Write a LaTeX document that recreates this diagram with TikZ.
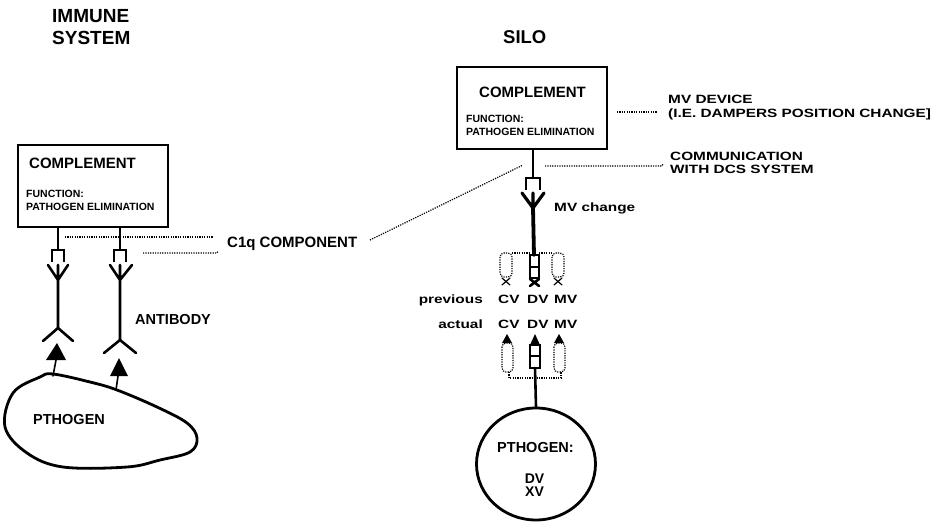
\documentclass[tikz,border=0pt]{standalone}
\usepackage{fontspec}
\setmainfont{Liberation Sans}
\newfontfamily\widefont[FakeStretch=1.28]{Liberation Sans}
\usetikzlibrary{positioning,shapes.geometric}
\newcommand{\fs}[1]{\fontsize{#1}{#1}\selectfont}

\begin{document}
\begin{tikzpicture}[
    x=1pt, y=-1pt, % one unit = one pixel of the reference, y downwards
    line cap=round,
    box/.style={draw, line width=2.2pt, minimum width=150pt, minimum height=82pt, inner sep=0pt},
    txt/.style={anchor=base west, inner sep=0pt, font=\bfseries},
    wide/.style={anchor=base west, inner sep=0pt, font=\widefont\bfseries\fs{12}},
    pointer/.style={line width=1.2pt, line cap=butt, dash pattern=on 1.2pt off 1.2pt},
    ab/.style={line width=2.6pt},
    hook/.style={line width=1.8pt, line cap=butt},
    pill/.style={line width=1.2pt, line cap=butt, dash pattern=on 1.2pt off 1.2pt, rounded corners=4pt}
]
\useasboundingbox (0,0) rectangle (937,522);

% --- 1. TITLES ---
\node[txt, font=\bfseries\fs{19}] (immune) at (52,23) {IMMUNE};
\node[txt, font=\bfseries\fs{19}] (system) at (52,44) {SYSTEM};
\node[txt, font=\bfseries\fs{18.5}] (silo) at (503,43) {SILO};

% --- 2. COMPLEMENT BOXES ---
\node[box] (lbox) at (93,186) {};
\node[txt, font=\bfseries\fs{15}] (lcompl) at (29,168) {COMPLEMENT};
\node[txt, font=\bfseries\fs{10.5}] (lfunc) at (26,197) {FUNCTION:};
\node[txt, font=\bfseries\fs{10.5}] (lelim) at (26,210) {PATHOGEN ELIMINATION};

\node[box] (rbox) at (532,108) {};
\node[txt, font=\bfseries\fs{15}] (rcompl) at (479,97) {COMPLEMENT};
\node[txt, font=\bfseries\fs{10.5}] (rfunc) at (466,122) {FUNCTION:};
\node[txt, font=\bfseries\fs{10.5}] (relim) at (466,135) {PATHOGEN ELIMINATION};

% --- 3. LEFT ANTIBODIES ---
\coordinate (hookA) at (58,250);
\coordinate (hookB) at (120,250);
\draw[hook] (lbox.south -| hookA) -- (hookA);
\draw[hook] (lbox.south -| hookB) -- (hookB);
\draw[hook] (52,262) -- (52,250) -- (64,250) -- (64,262);
\draw[hook] (114,262) -- (114,250) -- (126,250) -- (126,262);
% forks
\draw[ab] (48,265) -- (58,280) -- (68,265) (58,265) -- (58,328);
\draw[ab] (110,265) -- (120,280) -- (132,265) (120,265) -- (120,340);
\draw[ab] (43,341) -- (58,328) -- (73,341);
\draw[ab] (104,353) -- (120,340) -- (136,353);
% arrows from the pathogen
\fill (57,343) -- (66,360) -- (46,360) -- cycle;
\fill (119,358) -- (128,376) -- (110,376) -- cycle;
\draw[line width=1.6pt] (56,360) -- (53,376);
\draw[line width=1.6pt] (118,376) -- (116,390);
\node[txt, font=\bfseries\fs{14.5}] (antibody) at (135,324) {ANTIBODY};

% --- 4. PATHOGEN (LEFT) ---
\draw[line width=2.8pt] plot[smooth cycle, tension=0.6] coordinates {
    (5,427) (13,393) (40,377) (53,374) (90,382) (117,390) (157,407)
    (187,423) (197,438) (190,452) (160,460) (127,467) (63,467) (27,453)};
\node[txt, font=\bfseries\fs{14.5}] (lpath) at (33,424) {PTHOGEN};

% --- 5. C1q POINTERS ---
\node[txt, font=\bfseries\fs{15}] (c1q) at (227,247) {C1q COMPONENT};
\coordinate (c1qA) at (213,237);
\coordinate (c1qB) at (370,240);
\draw[pointer] (65,237) -- (c1qA);
\draw[pointer] (143,253) -- (217,253) -- (218,251);
\draw[pointer] (c1qB) -- (523,165);

% --- 6. RIGHT COLUMN ---
\coordinate (hookC) at (533,178);
\draw[hook] (rbox.south -| hookC) -- (hookC);
\draw[hook] (526,190) -- (526,178) -- (540,178) -- (540,190);
\draw[line width=3.2pt] (522,193) -- (533,208) -- (544,193) (533,193) -- (533,208);
\draw[line width=3.8pt] (533,208) -- (534,255);
\node[wide] (mvchange) at (554,211) {MV change};

% previous values
\draw[pointer] (512,253) -- (530,253) (539,253) -- (552,253);
\draw[pill] (500,253) rectangle (512,277);
\draw[pill] (552,253) rectangle (564,277);
\draw[line width=1.2pt] (502,278) -- (510,285) (510,278) -- (502,285);
\draw[line width=1.2pt] (554,278) -- (562,285) (562,278) -- (554,285);
\draw[line width=1.8pt] (530,255) rectangle (539,278) (530,267) -- (539,267);
\draw[line width=2.6pt] (530,279) -- (539,286) (539,279) -- (530,286);

\node[wide, anchor=base east] (prev) at (483,303) {previous};
\node[wide] (cvp) at (498,303) {CV};
\node[wide] (dvp) at (527,303) {DV};
\node[wide] (mvp) at (554,303) {MV};
\node[wide, anchor=base east] (act) at (483,328) {actual};
\node[wide] (cva) at (498,328) {CV};
\node[wide] (dva) at (527,328) {DV};
\node[wide] (mva) at (554,328) {MV};

% actual values
\fill (507,334) -- (512,343) -- (502,343) -- cycle;
\fill (559,334) -- (564,343) -- (554,343) -- cycle;
\fill (535,334) -- (540,345) -- (530,345) -- cycle;
\draw[pill] (502,343) rectangle (513,372);
\draw[pill] (554,343) rectangle (565,372);
\draw[pointer] (509,372) -- (509,378) -- (561,378) -- (561,372);
\draw[line width=1.8pt] (530,345) rectangle (540,368) (530,356) -- (540,356);

% --- 7. PATHOGEN (RIGHT) ---
\node[draw, ellipse, line width=2.8pt, minimum width=119pt, minimum height=112pt, inner sep=0pt] (rpath) at (536,464) {};
\draw[line width=2.6pt] (535,368) -- (rpath.north);
\node[font=\bfseries\fs{14.5}, anchor=base, inner sep=0pt] (rpathtxt) at (535.5,452) {PTHOGEN:};
\node[font=\bfseries\fs{14}, anchor=base, inner sep=0pt] (rdv) at (534.5,483) {DV};
\node[font=\bfseries\fs{14}, anchor=base, inner sep=0pt] (rxv) at (534.5,496) {XV};

% --- 8. SILO POINTERS ---
\node[wide] (mvdev) at (668,103) {MV DEVICE};
\node[wide] (mvdev2) at (668,117) {(I.E. DAMPERS POSITION CHANGE]};
\node[wide] (comm) at (670,160) {COMMUNICATION};
\node[wide] (comm2) at (670,173) {WITH DCS SYSTEM};
\draw[pointer] (617,112) -- (657,112);
\draw[pointer] (545,166) -- (662,166) -- (663,164);

\end{tikzpicture}
\end{document}
